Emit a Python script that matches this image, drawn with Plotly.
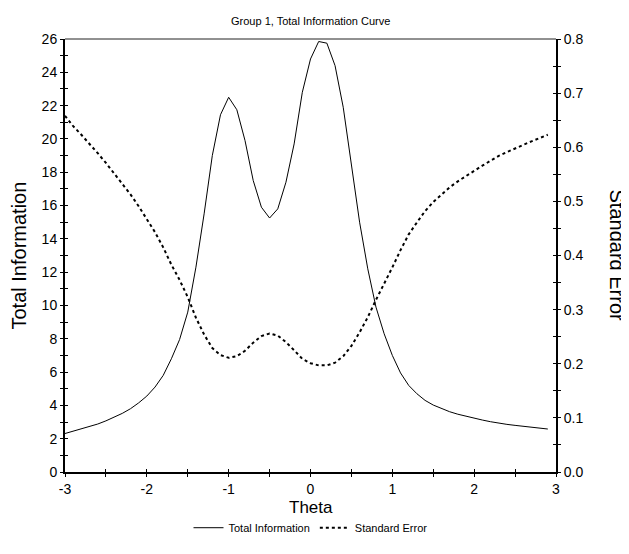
import plotly.graph_objects as go

theta = [-3.0, -2.9, -2.8, -2.7, -2.6, -2.5, -2.4, -2.3, -2.2, -2.1,
         -2.0, -1.9, -1.8, -1.7, -1.6, -1.5, -1.4, -1.3, -1.2, -1.1,
         -1.0, -0.9, -0.8, -0.7, -0.6, -0.5, -0.4, -0.3, -0.2, -0.1,
         0.0, 0.1, 0.2, 0.3, 0.4, 0.5, 0.6, 0.7, 0.8, 0.9,
         1.0, 1.1, 1.2, 1.3, 1.4, 1.5, 1.6, 1.7, 1.8, 1.9,
         2.0, 2.1, 2.2, 2.3, 2.4, 2.5, 2.6, 2.7, 2.8, 2.9]

total_information = [2.31, 2.45, 2.58, 2.71, 2.88, 3.07, 3.28, 3.52, 3.80, 4.15,
                     4.56, 5.10, 5.80, 6.80, 7.95, 9.60, 12.30, 15.50, 19.00, 21.45,
                     22.50, 21.75, 19.90, 17.50, 15.90, 15.25, 15.80, 17.40, 19.70, 22.80,
                     24.80, 25.85, 25.75, 24.40, 21.90, 18.40, 15.00, 12.20, 9.90, 8.30,
                     7.00, 5.95, 5.20, 4.70, 4.30, 4.02, 3.80, 3.62, 3.47, 3.34,
                     3.22, 3.12, 3.02, 2.93, 2.86, 2.80, 2.74, 2.68, 2.63, 2.58]

standard_error = [0.658, 0.639, 0.623, 0.607, 0.589, 0.571, 0.552, 0.533, 0.513, 0.491,
                  0.468, 0.443, 0.415, 0.383, 0.355, 0.323, 0.285, 0.254, 0.229, 0.216,
                  0.211, 0.214, 0.224, 0.239, 0.251, 0.256, 0.252, 0.240, 0.225, 0.209,
                  0.201, 0.197, 0.197, 0.202, 0.214, 0.233, 0.258, 0.286, 0.318, 0.347,
                  0.378, 0.410, 0.439, 0.461, 0.482, 0.499, 0.513, 0.526, 0.537, 0.547,
                  0.557, 0.566, 0.575, 0.584, 0.591, 0.598, 0.604, 0.611, 0.617, 0.623]

x_ticks = [-3, -2, -1, 0, 1, 2, 3]
y_ticks = [0, 2, 4, 6, 8, 10, 12, 14, 16, 18, 20, 22, 24, 26]
y2_ticks = [0.0, 0.1, 0.2, 0.3, 0.4, 0.5, 0.6, 0.7, 0.8]

x_range = [-3, 3]
y_range = [0, 26]
y2_range = [0, 0.8]

FONT = "Liberation Sans, Arial, sans-serif"

fig = go.Figure()
fig.add_trace(go.Scatter(x=theta, y=total_information, mode="lines",
                         name="Total Information",
                         line=dict(color="black", width=1)))
fig.add_trace(go.Scatter(x=theta, y=standard_error, mode="lines",
                         name="Standard Error", yaxis="y2",
                         line=dict(color="black", width=2, dash="dot")))
# empty helper traces so the inner-tick overlay axes are drawn
fig.add_trace(go.Scatter(x=[], y=[], xaxis="x2", yaxis="y3",
                         showlegend=False, hoverinfo="skip"))
fig.add_trace(go.Scatter(x=[], y=[], xaxis="x2", yaxis="y4",
                         showlegend=False, hoverinfo="skip"))

# The page body has an 8px margin, so the figure starts at (8, 8) on screen.
# Target plot area on screen: x 65..556, y 39..482.
OFF = 8
FIG_W, FIG_H = 629 - OFF, 554 - OFF
L, T = 65 - OFF, 39 - OFF
PW, PH = 556 - 65, 482 - 39
R = FIG_W - L - PW
B = FIG_H - T - PH

def px(sx):
    return (sx - 65) / PW

def py(sy):
    return (482 - sy) / PH

tickfont = dict(family=FONT, size=14, color="black")
axis_common = dict(showgrid=False, zeroline=False, showline=True,
                   linecolor="black", linewidth=2, ticks="outside",
                   ticklen=3, tickwidth=1, tickcolor="black",
                   tickfont=tickfont)
inner_common = dict(showgrid=False, zeroline=False, showline=False,
                    ticks="inside", ticklen=3, tickwidth=1,
                    tickcolor="black", showticklabels=False)

fig.update_layout(
    width=FIG_W, height=FIG_H,
    margin=dict(l=L, r=R, t=T, b=B),
    paper_bgcolor="white", plot_bgcolor="white",
    font=dict(family=FONT, color="black"),
    showlegend=True,
    legend=dict(orientation="h", x=0.5, xanchor="center",
                y=py(539), yanchor="middle",
                font=dict(family=FONT, size=11, color="black"),
                bgcolor="rgba(0,0,0,0)"),
    xaxis=dict(range=x_range, tickvals=x_ticks,
               ticktext=[str(v) for v in x_ticks],
               minor=dict(dtick=0.5, ticks="outside", ticklen=3,
                          tickcolor="black", tickwidth=1),
               **axis_common),
    yaxis=dict(range=y_range, tickvals=y_ticks,
               ticktext=[str(v) for v in y_ticks],
               minor=dict(dtick=1, ticks="outside", ticklen=3,
                          tickcolor="black", tickwidth=1),
               **axis_common),
    yaxis2=dict(range=y2_range, tickvals=y2_ticks,
                ticktext=["%.1f" % v for v in y2_ticks],
                overlaying="y", side="right", anchor="x",
                minor=dict(dtick=0.05, ticks="outside", ticklen=3,
                           tickcolor="black", tickwidth=1),
                **axis_common),
    xaxis2=dict(range=x_range, overlaying="x", side="bottom", anchor="y3",
                dtick=0.5, tick0=0, **inner_common),
    yaxis3=dict(range=y_range, overlaying="y", side="left", anchor="x2",
                dtick=1, tick0=0, **inner_common),
    yaxis4=dict(range=y2_range, overlaying="y", side="right", anchor="x2",
                dtick=0.05, tick0=0, **inner_common),
    shapes=[dict(type="line", xref="paper", yref="paper",
                 x0=0, x1=1, y0=1, y1=1,
                 line=dict(color="#222222", width=1))],
    annotations=[
        dict(text="Group 1, Total Information Curve", xref="paper", yref="paper",
             x=0.5, y=py(21), xanchor="center", yanchor="middle",
             showarrow=False, font=dict(family=FONT, size=11, color="black")),
        dict(text="Theta", xref="paper", yref="paper",
             x=0.5, y=py(518), xanchor="center", yanchor="middle",
             showarrow=False, font=dict(family=FONT, size=17, color="black")),
        dict(text="Total Information", xref="paper", yref="paper",
             x=px(18), y=0.5, xanchor="center", yanchor="middle",
             textangle=-90, showarrow=False,
             font=dict(family=FONT, size=20, color="black")),
        dict(text="Standard Error", xref="paper", yref="paper",
             x=px(617), y=0.5, xanchor="center", yanchor="middle",
             textangle=90, showarrow=False,
             font=dict(family=FONT, size=20, color="black")),
    ],
)

fig.write_html("out.html")
